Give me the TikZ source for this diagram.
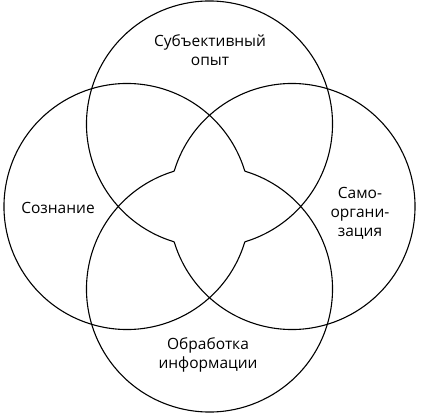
\documentclass[tikz,border=0pt]{standalone}
\usepackage{fontspec}
\setmainfont{Open Sans}
\begin{document}
\begin{tikzpicture}[x=1pt,y=-1pt,
  ring/.style={draw=black,line width=1.1pt},
  lbl/.style={align=center,font=\fontsize{15.5}{19}\selectfont,inner sep=0pt}]
\useasboundingbox (0,0) rectangle (426,415);
\pgfmathsetmacro{\crad}{123}
\pgfmathsetmacro{\ti}{(8.25 - sqrt(2*12.3*12.3 - 8.25*8.25))/2}
\pgfmathsetmacro{\al}{atan(-\ti/(8.25-\ti))}
\coordinate (ctop) at (209.5,124);
\coordinate (cbot) at (209.5,289);
\coordinate (cleft) at (127,206.5);
\coordinate (cright) at (292,206.5);
% right circle
\pgfmathsetmacro{\sa}{\al-180}\pgfmathsetmacro{\ea}{180-\al}
\draw[ring] ([shift={(\sa:\crad)}]cright) arc[start angle=\sa,end angle=\ea,radius=\crad];
% left circle
\pgfmathsetmacro{\sa}{\al}\pgfmathsetmacro{\ea}{360-\al}
\draw[ring] ([shift={(\sa:\crad)}]cleft) arc[start angle=\sa,end angle=\ea,radius=\crad];
% top circle
\pgfmathsetmacro{\sa}{90+\al}\pgfmathsetmacro{\ea}{450-\al}
\draw[ring] ([shift={(\sa:\crad)}]ctop) arc[start angle=\sa,end angle=\ea,radius=\crad];
% bottom circle
\pgfmathsetmacro{\sa}{\al-90}\pgfmathsetmacro{\ea}{270-\al}
\draw[ring] ([shift={(\sa:\crad)}]cbot) arc[start angle=\sa,end angle=\ea,radius=\crad];
% labels
\node[lbl] (subj) at (210,50) {Субъективный\\опыт};
\node[lbl] (sozn) at (58,208) {Сознание};
\node[lbl] (samo) at (360,213) {Само-\\органи-\\зация};
\node[lbl] (obr) at (208,355) {Обработка\\информации};
\end{tikzpicture}
\end{document}
